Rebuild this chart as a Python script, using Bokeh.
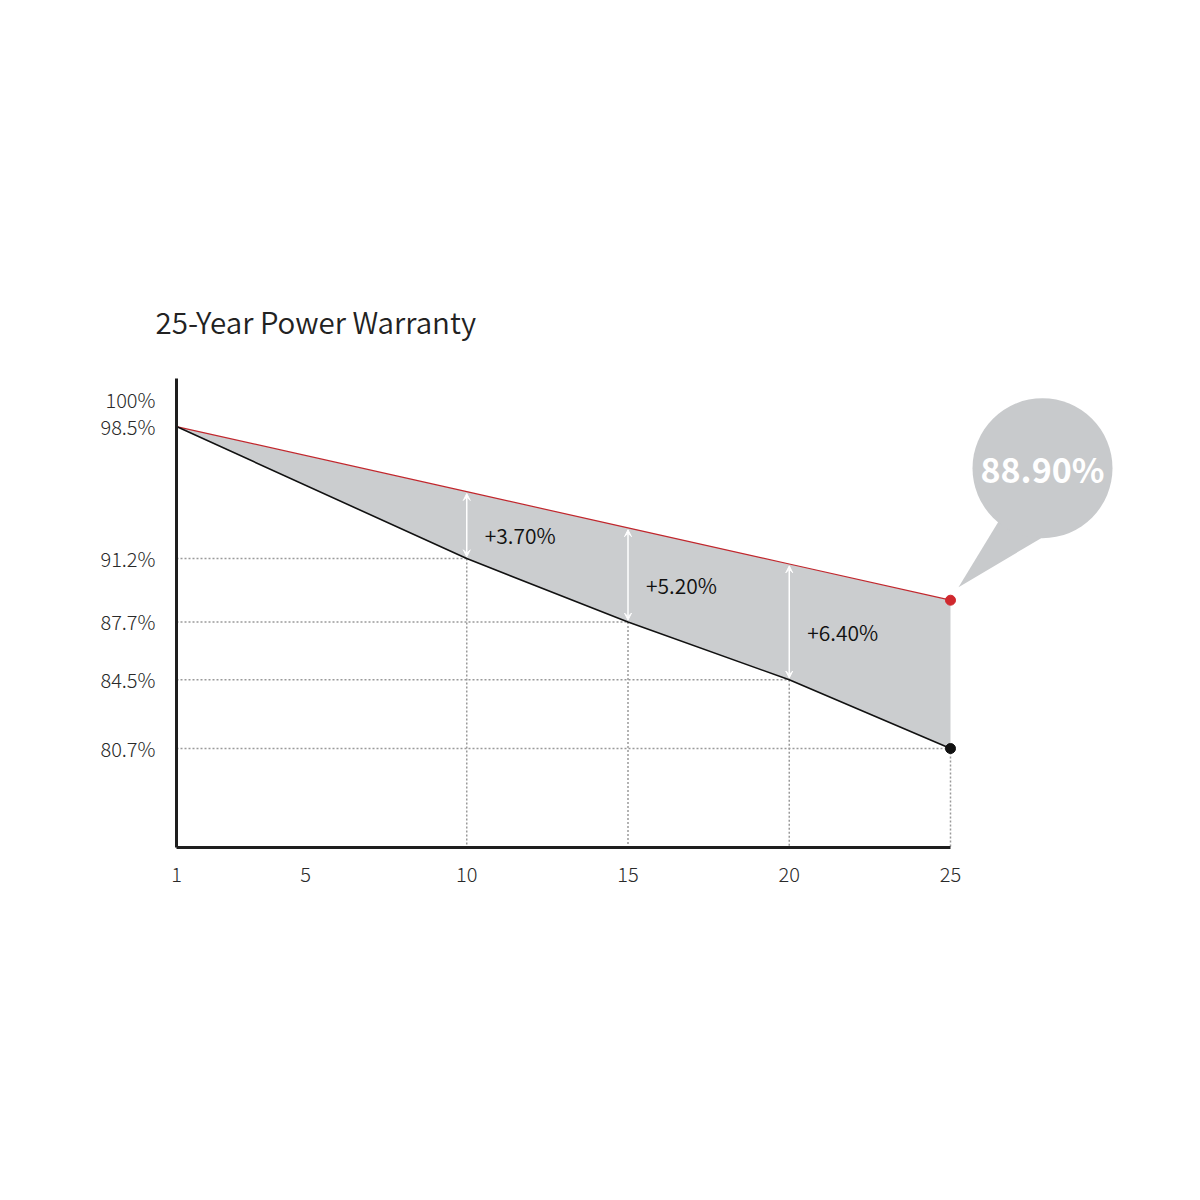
from bokeh.plotting import figure
from bokeh.models import Range1d, FixedTicker, Arrow, VeeHead
from bokeh.embed import file_html
from bokeh.resources import INLINE
from bokeh.core.properties import value

# ---------------- data ----------------
title_text = "25-Year Power Warranty"
years = [1, 10, 15, 20, 25]
standard = [98.5, 91.2, 87.7, 84.5, 80.7]      # industry standard (black)
warranty = [98.5, 94.9, 92.9, 90.9, 88.9]      # this product (red)
gain_years = [10, 15, 20]
gain_labels = ["+3.70%", "+5.20%", "+6.40%"]
final_label = "88.90%"
x_ticks = [1, 5, 10, 15, 20, 25]
y_ticks = [100, 98.5, 91.2, 87.7, 84.5, 80.7]
y_tick_labels = ["100%", "98.5%", "91.2%", "87.7%", "84.5%", "80.7%"]

# ---------------- layout ----------------
FONT = "Noto Sans CJK JP"
FONT_LIGHT = "Noto Sans CJK JP Light"
FONT_DEMI = "Noto Sans CJK JP DemiLight"
PX_X = 32.25      # pixels per year
PX_Y = 18.09      # pixels per percent
FRAME_W, FRAME_H = 954, 469
Y_BOTTOM = 75.23
LEFT, TOP = 176, 378

p = figure(width=1184, height=1184, output_backend="svg", toolbar_location=None,
           x_range=Range1d(1, 1 + FRAME_W / PX_X),
           y_range=Range1d(Y_BOTTOM, Y_BOTTOM + FRAME_H / PX_Y),
           min_border_left=LEFT, min_border_top=TOP,
           min_border_right=1184 - LEFT - FRAME_W, min_border_bottom=1184 - TOP - FRAME_H)
p.outline_line_color = None
p.xgrid.visible = False
p.ygrid.visible = False
p.background_fill_color = "white"
p.border_fill_color = "white"

p.title.text = title_text
p.title.text_font = FONT_DEMI
p.title.text_font_size = "29.5px"
p.title.text_font_style = "normal"
p.title.text_color = "#222222"
p.title.align = "left"
p.title.offset = -21
p.title.standoff = 74

for ax in (p.xaxis[0], p.yaxis[0]):
    ax.axis_line_width = 3
    ax.axis_line_color = "#1e1e1e"
    ax.major_tick_in = 0
    ax.major_tick_out = 0
    ax.minor_tick_in = 0
    ax.minor_tick_out = 0
    ax.major_label_text_font = FONT_LIGHT
    ax.major_label_text_font_size = "20px"
    ax.major_label_text_color = "#2a2a2a"

p.xaxis.ticker = FixedTicker(ticks=x_ticks)
p.xaxis.bounds = (1, 25)
p.xaxis.major_label_standoff = 19
p.yaxis.ticker = FixedTicker(ticks=y_ticks)
p.yaxis.major_label_overrides = {t: l for t, l in zip(y_ticks, y_tick_labels)}
p.yaxis.major_label_standoff = 21

# dotted guide lines from the standard curve to both axes
gx = years[1:]
gy = standard[1:]
p.segment(x0=[years[0]] * len(gx), y0=gy, x1=gx, y1=gy,
          line_color="#9a9a9a", line_width=1.5, line_dash="2 2")
p.segment(x0=gx, y0=gy, x1=gx, y1=[Y_BOTTOM] * len(gx),
          line_color="#9a9a9a", line_width=1.5, line_dash="2 2")

# shaded gain area
p.varea(x=years, y1=standard, y2=warranty, fill_color="#cbcdcf")
p.line(years, warranty, line_color="#c1272d", line_width=1.2)
p.line(years, standard, line_color="#111111", line_width=1.6)

# arrows + labels
for yr, lab in zip(gain_years, gain_labels):
    i = years.index(yr)
    p.add_layout(Arrow(x_start=yr, y_start=standard[i] + 0.1, x_end=yr, y_end=warranty[i] - 0.1,
                       line_color="white", line_width=1.5,
                       start=VeeHead(size=7, fill_color="white", line_color="white", line_width=1),
                       end=VeeHead(size=7, fill_color="white", line_color="white", line_width=1)))
mids = [(standard[years.index(y)] + warranty[years.index(y)]) / 2 for y in gain_years]
p.text(x=gain_years, y=mids, text=gain_labels, x_offset=18, y_offset=10,
       text_align="left", text_baseline="middle",
       text_font=value(FONT_DEMI), text_font_size="21px", text_color="#111111")

# end points
p.scatter([years[-1]], [warranty[-1]], size=10, color="#d0282e")
p.scatter([years[-1]], [standard[-1]], size=10, color="#111111")

# speech bubble anchored at final warranty value
bx = years[-1] + 92 / PX_X
by = warranty[-1] + 132 / PX_Y
tip_x = years[-1] + 8 / PX_X
tip_y = warranty[-1] + 13 / PX_Y
p.patch(x=[tip_x, bx - 42 / PX_X, bx, bx + 2 / PX_X],
        y=[tip_y, by - 50 / PX_Y, by, by - 68 / PX_Y],
        fill_color="#c8cacc", line_color=None)
p.scatter([bx], [by], size=140, fill_color="#c8cacc", line_color=None)
p.text(x=[bx], y=[by], text=[final_label], text_align="center", text_baseline="middle",
       text_font=value(FONT), text_font_style="bold", text_font_size="34px", text_color="white")

open("out.html", "w").write(file_html(p, INLINE))
